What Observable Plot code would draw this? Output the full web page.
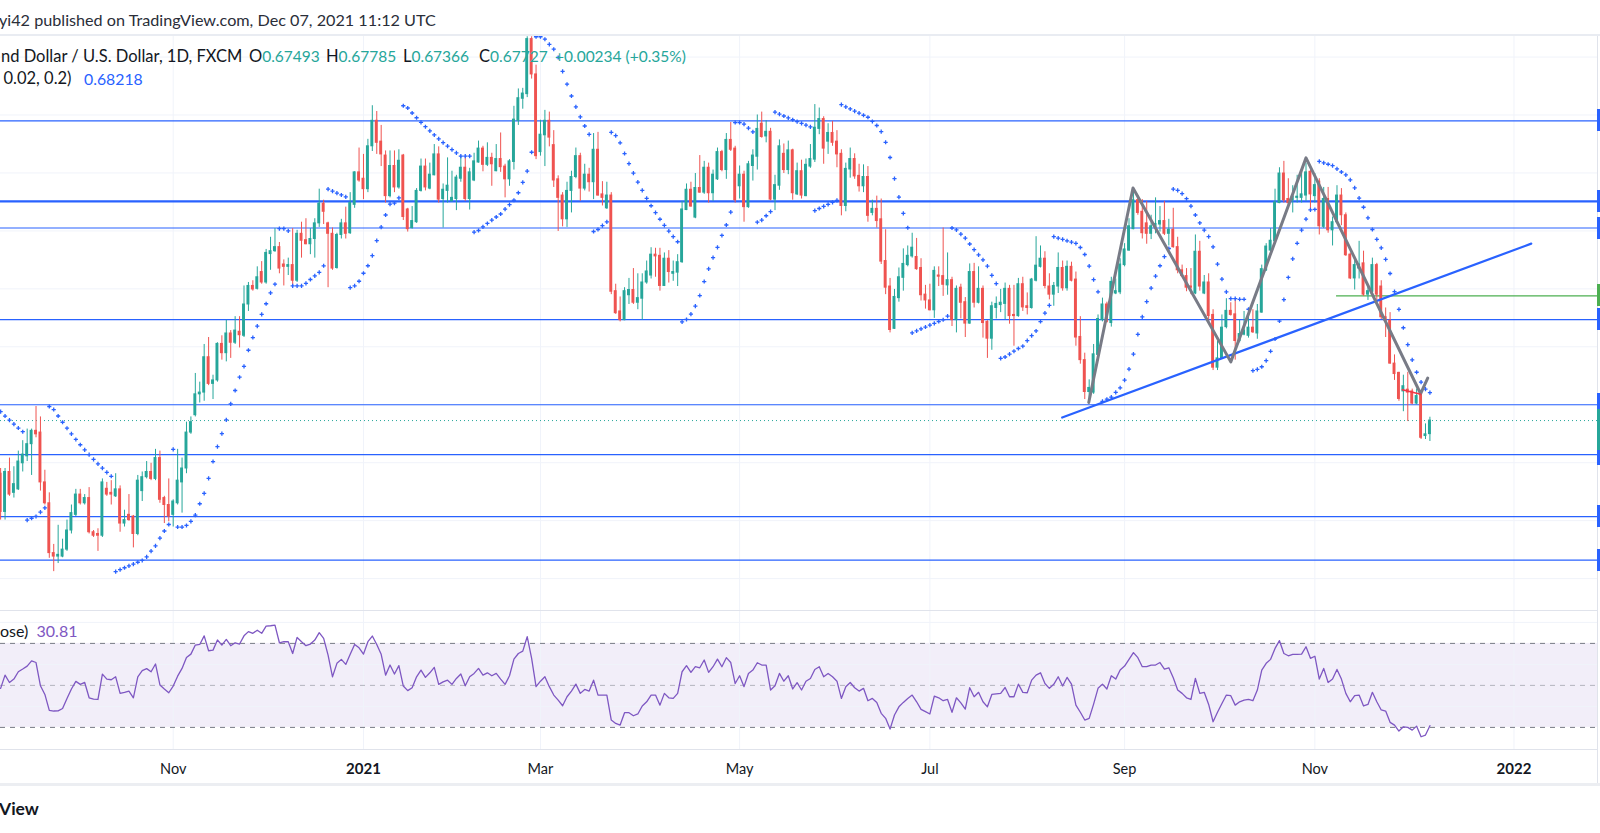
<!DOCTYPE html>
<html><head><meta charset="utf-8">
<script src="https://cdn.jsdelivr.net/npm/d3@7"></script>
<script src="https://cdn.jsdelivr.net/npm/@observablehq/plot@0.6"></script>
<style>
html,body{margin:0;padding:0;background:#fff;}
#root{position:relative;width:1600px;height:833px;overflow:hidden;background:#fff;font-family:Lato,"Noto Sans",sans-serif;color:#131722;}
.t{position:absolute;white-space:nowrap;line-height:1;}
.pane{position:absolute;left:0;}
.hl{position:absolute;left:0;width:1600px;}
</style></head><body><div id="root"></div>
<script>
// NZD/USD daily, FXCM — first bar 2020-09-08, last bar 2021-12-07 (one entry per trading day)
const open = [
.6681,.6615,.6684,.6648,.6654,.6699,.6711,.6732,.6755,.6752,
.6666,.6630,.6544,.6538,.6538,.6550,.6583,.6610,.6645,.6630,
.6639,.6580,.6577,.6574,.6655,.6648,.6642,.6654,.6595,.6610,
.6607,.6577,.6651,.6675,.6684,.6672,.6708,.6639,.6627,.6610,
.6630,.6666,.6690,.6752,.6782,.6818,.6821,.6882,.6836,.6842,
.6905,.6889,.6923,.6907,.6926,.6919,.6973,.7005,.7000,.7029,
.7011,.7060,.7065,.7072,.7042,.7038,.7041,.7014,.7095,.7084,
.7077,.7086,.7113,.7147,.7113,.7095,.7036,.7093,.7113,.7096,
.7145,.7201,.7190,.7172,.7246,.7290,.7254,.7230,.7160,.7212,
.7175,.7230,.7137,.7105,.7115,.7169,.7211,.7173,.7196,.7232,
.7155,.7169,.7151,.7155,.7190,.7209,.7155,.7187,.7218,.7242,
.7214,.7226,.7203,.7224,.7211,.7189,.7219,.7290,.7328,.7336,
.7431,.7370,.7236,.7265,.7290,.7248,.7189,.7161,.7120,.7169,
.7193,.7229,.7173,.7197,.7184,.7240,.7163,.7139,.7161,.6996,
.6961,.6946,.6989,.6998,.6976,.6983,.7011,.7023,.7059,.7057,
.7005,.7052,.7026,.7028,.7046,.7136,.7171,.7123,.7174,.7166,
.7209,.7165,.7189,.7236,.7205,.7257,.7242,.7177,.7197,.7141,
.7212,.7228,.7285,.7263,.7271,.7154,.7178,.7233,.7205,.7239,
.7163,.7203,.7160,.7211,.7223,.7276,.7293,.7254,.7269,.7254,
.7233,.7143,.7206,.7224,.7195,.7177,.7193,.7131,.7138,.7120,
.7048,.7004,.6931,.6984,.7019,.7041,.7056,.7055,.7036,.6990,
.6980,.6963,.7023,.7022,.7006,.7015,.6946,.7002,.6977,.6940,
.7029,.6976,.7000,.6943,.6914,.6967,.6972,.6974,.7000,.6955,
.6953,.7008,.6970,.6967,.7014,.7038,.7052,.7004,.6990,.7004,
.7036,.7001,.7038,.7016,.6917,.6877,.6822,.6821,.6886,.6946,
.6973,.6941,.6992,.6994,.7041,.7066,.7103,.7153,.7133,.7113,
.7095,.7106,.7111,.7117,.7095,.7102,.7072,.7032,.7022,.7004,
.6992,.7064,.6992,.7011,.6955,.6864,.6880,.6934,.6962,.6956,
.6910,.6921,.6919,.6933,.6923,.6959,.7032,.7066,.7082,.7148,
.7199,.7155,.7153,.7157,.7157,.7161,.7202,.7160,.7185,.7107,
.7155,.7101,.7115,.7161,.7127,.7059,.7018,.7035,.7044,.6990,
.6995,.7041,.7004,.6951,.6945,.6871,.6855,.6823,.6826,.6823,
.6802,.6818,.6746,.67493];
const high = [
.6690,.6690,.6708,.6693,.6720,.6738,.6758,.6758,.6797,.6779,
.6687,.6648,.6559,.6592,.6568,.6601,.6627,.6654,.6654,.6645,
.6657,.6583,.6586,.6672,.6666,.6669,.6681,.6660,.6618,.6645,
.6609,.6678,.6684,.6702,.6699,.6723,.6720,.6642,.6672,.6636,
.6723,.6708,.6770,.6779,.6854,.6839,.6904,.6916,.6851,.6907,
.6919,.6946,.6928,.6952,.6952,.7005,.7011,.7014,.7038,.7047,
.7068,.7089,.7104,.7080,.7050,.7053,.7104,.7101,.7115,.7121,
.7104,.7121,.7172,.7153,.7115,.7105,.7096,.7120,.7141,.7166,
.7202,.7243,.7232,.7258,.7316,.7306,.7282,.7238,.7238,.7238,
.7240,.7232,.7139,.7142,.7173,.7224,.7224,.7217,.7249,.7245,
.7181,.7226,.7203,.7196,.7229,.7226,.7208,.7234,.7255,.7246,
.7252,.7234,.7249,.7269,.7215,.7223,.7315,.7345,.7346,.7435,
.7435,.7386,.7291,.7308,.7305,.7273,.7195,.7166,.7184,.7203,
.7243,.7234,.7215,.7208,.7268,.7270,.7185,.7184,.7166,.7008,
.6986,.7002,.7018,.7035,.7026,.7026,.7048,.7071,.7070,.7070,
.7062,.7066,.7048,.7059,.7151,.7181,.7184,.7199,.7230,.7220,
.7217,.7205,.7243,.7239,.7268,.7287,.7246,.7212,.7203,.7220,
.7240,.7300,.7305,.7290,.7277,.7196,.7257,.7250,.7255,.7241,
.7217,.7222,.7224,.7249,.7318,.7312,.7297,.7285,.7289,.7273,
.7240,.7217,.7243,.7233,.7215,.7214,.7211,.7153,.7160,.7155,
.7102,.7018,.6999,.7036,.7069,.7074,.7096,.7087,.7052,.7006,
.7008,.7038,.7038,.7105,.7062,.7020,.7005,.7008,.6985,.7043,
.7044,.7038,.7005,.6945,.6977,.6986,.6999,.7010,.7006,.7006,
.7018,.7020,.6993,.7018,.7090,.7074,.7064,.7026,.7011,.7062,
.7048,.7048,.7046,.7029,.6952,.6889,.6843,.6904,.6955,.6984,
.6977,.7020,.7017,.7052,.7078,.7121,.7172,.7161,.7154,.7151,
.7127,.7157,.7142,.7151,.7120,.7139,.7089,.7041,.7035,.7035,
.7093,.7082,.7023,.7026,.6964,.6910,.6955,.6983,.6976,.6982,
.6946,.6961,.6952,.6964,.6973,.7041,.7078,.7104,.7172,.7209,
.7220,.7190,.7178,.7196,.7202,.7217,.7205,.7199,.7190,.7175,
.7175,.7124,.7178,.7173,.7131,.7062,.7050,.7082,.7065,.7006,
.7053,.7044,.7014,.6967,.6959,.6886,.6856,.6851,.6856,.6827,
.6827,.6821,.6767,.67785];
const low = [
.6601,.6601,.6642,.6639,.6652,.6684,.6702,.6678,.6743,.6651,
.6627,.6535,.6512,.6526,.6536,.6547,.6577,.6607,.6627,.6627,
.6577,.6571,.6547,.6571,.6642,.6627,.6640,.6580,.6589,.6599,
.6553,.6574,.6633,.6672,.6669,.6669,.6630,.6595,.6598,.6589,
.6627,.6613,.6681,.6749,.6779,.6803,.6806,.6833,.6809,.6839,
.6877,.6874,.6880,.6904,.6898,.6916,.6961,.6996,.6998,.7008,
.7008,.7032,.7063,.7026,.7005,.7023,.7005,.7011,.7053,.7076,
.7059,.7053,.7106,.7111,.7002,.7032,.7034,.7086,.7086,.7094,
.7139,.7184,.7154,.7166,.7237,.7232,.7211,.7148,.7157,.7166,
.7172,.7118,.7098,.7103,.7113,.7167,.7169,.7171,.7195,.7148,
.7105,.7148,.7150,.7135,.7184,.7151,.7136,.7185,.7217,.7202,
.7211,.7177,.7202,.7201,.7157,.7177,.7205,.7282,.7310,.7330,
.7362,.7223,.7229,.7211,.7245,.7175,.7099,.7107,.7106,.7131,
.7190,.7151,.7169,.7167,.7154,.7160,.7143,.7137,.6990,.6956,
.6943,.6945,.6973,.6973,.6964,.6946,.7008,.7017,.7020,.6996,
.7004,.7010,.7013,.7004,.7044,.7135,.7141,.7121,.7165,.7163,
.7148,.7151,.7187,.7202,.7189,.7237,.7148,.7155,.7115,.7139,
.7186,.7205,.7260,.7252,.7152,.7135,.7170,.7199,.7197,.7153,
.7161,.7155,.7159,.7208,.7218,.7266,.7215,.7232,.7246,.7209,
.7126,.7133,.7191,.7189,.7167,.7166,.7115,.7126,.7105,.7042,
.6990,.6924,.6930,.6977,.6996,.7038,.7053,.7032,.6979,.6965,
.6962,.6949,.7004,.6987,.6989,.6935,.6924,.6948,.6916,.6939,
.6967,.6974,.6915,.6880,.6894,.6948,.6959,.6947,.6939,.6901,
.6951,.6961,.6955,.6965,.7012,.7036,.7000,.6981,.6970,.6992,
.6996,.6996,.7012,.6901,.6870,.6809,.6806,.6818,.6883,.6943,
.6941,.6934,.6990,.6990,.7038,.7065,.7102,.7127,.7086,.7077,
.7085,.7095,.7098,.7092,.7074,.7070,.7026,.7020,.6995,.6990,
.6990,.6996,.6990,.6943,.6859,.6859,.6879,.6931,.6953,.6877,
.6907,.6919,.6915,.6923,.6913,.6958,.7030,.7062,.7080,.7147,
.7148,.7141,.7131,.7148,.7148,.7151,.7137,.7148,.7093,.7104,
.7096,.7074,.7112,.7109,.7056,.7016,.6998,.7017,.6987,.6980,
.6989,.6980,.6947,.6916,.6870,.6842,.6806,.6788,.6771,.6800,
.6800,.6740,.6740,.67366];
const close = [
.6615,.6684,.6645,.6663,.6702,.6714,.6732,.6755,.6749,.6666,
.6630,.6544,.6538,.6541,.6550,.6583,.6613,.6645,.6630,.6639,
.6580,.6574,.6574,.6666,.6645,.6645,.6654,.6595,.6601,.6601,
.6577,.6669,.6675,.6684,.6672,.6708,.6636,.6627,.6607,.6633,
.6669,.6690,.6752,.6770,.6818,.6821,.6882,.6836,.6842,.6905,
.6889,.6923,.6907,.6928,.6920,.6973,.7005,.6999,.7020,.7011,
.7062,.7065,.7072,.7035,.7038,.7041,.7014,.7095,.7083,.7077,
.7086,.7113,.7147,.7133,.7095,.7035,.7093,.7113,.7095,.7148,
.7201,.7187,.7172,.7246,.7290,.7252,.7232,.7160,.7212,.7175,
.7221,.7124,.7103,.7117,.7169,.7211,.7175,.7197,.7232,.7154,
.7171,.7178,.7157,.7192,.7209,.7155,.7201,.7220,.7242,.7214,
.7226,.7215,.7224,.7210,.7189,.7220,.7292,.7329,.7337,.7431,
.7370,.7229,.7266,.7290,.7261,.7187,.7157,.7120,.7169,.7193,
.7229,.7173,.7197,.7184,.7240,.7161,.7157,.7161,.6995,.6958,
.6946,.6996,.6998,.6976,.6984,.7011,.7030,.7059,.7056,.7005,
.7052,.7029,.7029,.7046,.7137,.7171,.7142,.7174,.7166,.7209,
.7165,.7197,.7236,.7205,.7257,.7240,.7153,.7197,.7141,.7215,
.7230,.7276,.7262,.7271,.7154,.7179,.7246,.7205,.7239,.7165,
.7203,.7161,.7214,.7224,.7278,.7293,.7242,.7269,.7252,.7232,
.7143,.7207,.7224,.7194,.7177,.7193,.7126,.7138,.7117,.7047,
.7002,.6929,.6986,.7020,.7043,.7057,.7071,.7034,.6989,.6980,
.6963,.7031,.7021,.7007,.7015,.6946,.7000,.6976,.6940,.7029,
.6976,.7000,.6941,.6914,.6970,.6974,.6976,.7000,.6953,.6953,
.7008,.6968,.6967,.7016,.7040,.7052,.7005,.6990,.7005,.7036,
.7001,.7038,.7014,.6916,.6877,.6822,.6829,.6887,.6948,.6973,
.6943,.7012,.6996,.7042,.7068,.7108,.7153,.7131,.7096,.7095,
.7108,.7112,.7117,.7095,.7102,.7072,.7032,.7022,.7002,.7002,
.7064,.7004,.7011,.6953,.6864,.6880,.6933,.6962,.6955,.6910,
.6922,.6928,.6933,.6925,.6961,.7034,.7073,.7083,.7149,.7199,
.7153,.7148,.7159,.7159,.7163,.7201,.7163,.7179,.7108,.7155,
.7101,.7115,.7161,.7127,.7058,.7018,.7041,.7042,.6990,.6996,
.7041,.6990,.6951,.6945,.6871,.6853,.6810,.6832,.6821,.6802,
.6815,.6743,.6749,.67727];
// RSI(14, close)
const rsi = [
48.6,54.9,51.4,53.0,56.5,57.8,59.2,61.7,60.9,49.8,
45.7,38.1,37.8,37.9,39.0,43.8,48.3,51.9,50.5,51.4,
44.1,43.5,43.3,55.4,53.0,52.7,54.1,46.2,46.7,47.3,
44.1,54.1,57.0,58.0,56.5,60.2,50.2,48.3,46.5,49.7,
54.4,58.1,63.3,64.9,69.2,69.5,73.6,66.5,66.8,71.6,
69.2,71.9,68.9,70.3,69.7,73.6,75.6,74.8,76.3,74.8,
78.25,78.4,78.7,70.3,70.8,70.8,65.2,72.85,70.8,68.9,
69.7,71.6,75.1,72.4,64.4,54.1,60.5,62.4,60.0,64.8,
69.5,67.9,64.9,70.8,73.5,69.5,64.8,54.9,59.7,55.4,
59.4,49.7,47.5,48.9,54.1,57.3,53.8,56.0,58.6,50.5,
51.7,52.5,50.5,53.3,55.4,49.8,54.1,55.7,58.1,54.9,
56.0,54.6,55.7,53.0,50.5,54.6,62.5,65.2,66.3,73.2,
62.9,49.4,52.0,54.1,49.4,45.4,43.0,40.3,44.6,47.3,
50.6,46.2,48.1,47.3,52.5,45.4,45.4,45.4,33.5,31.9,
31.1,37.0,37.0,35.55,36.4,40.2,42.2,45.4,45.4,40.6,
46.2,44.1,43.8,46.2,56.5,59.4,56.2,58.9,58.4,62.1,
56.2,58.9,62.5,58.9,63.2,60.9,50.9,54.6,49.4,55.7,
57.3,60.8,59.7,59.7,47.8,49.8,55.7,52.0,54.6,48.3,
51.3,47.8,52.0,53.3,57.6,58.9,54.1,55.7,54.1,52.0,
43.8,49.4,51.4,48.9,47.3,48.6,42.7,43.8,41.9,36.7,
34.3,29.2,35.9,39.8,41.9,43.8,45.4,42.2,38.6,37.5,
36.4,44.9,44.1,42.7,43.3,37.2,44.1,41.7,38.7,48.9,
44.6,46.7,42.2,39.8,45.7,46.0,46.2,49.0,44.6,44.6,
50.6,46.7,46.5,52.5,54.9,56.0,50.9,48.6,50.5,54.1,
49.7,53.8,50.6,40.6,37.2,33.5,34.3,41.1,48.6,50.6,
48.3,54.6,53.0,57.3,59.2,62.4,65.6,63.2,58.9,58.9,
59.7,59.7,60.9,57.8,58.4,53.6,47.8,46.2,44.1,43.3,
53.3,46.2,46.7,40.95,32.7,37.2,41.4,45.4,45.1,40.6,
42.2,43.0,43.3,42.7,47.8,57.3,60.5,62.4,67.6,71.3,
65.2,64.1,64.8,64.8,64.9,68.4,62.9,63.9,53.0,58.1,
51.4,53.0,57.6,53.0,46.2,42.2,45.1,45.4,40.2,40.95,
46.7,42.2,38.3,37.8,32.4,31.1,28.25,30.3,30.0,28.7,
30.6,25.55,26.35,30.81];

// time axis: bar index of first bar of each labelled month
const tickBars = [39, 82, 122, 167, 210, 254, 297, 342];
const tickLabels = ["Nov", "2021", "Mar", "May", "Jul", "Sep", "Nov", "2022"];

// drawn horizontal levels (price)
const levels = [0.7290, 0.7105, 0.6947, 0.6800, 0.6714, 0.6607, 0.6532];
const thickLevel = 0.7151;
const greenLevel = 0.6988, greenStartBar = 301.9;
// rising trend line and zigzag drawing (bar, price)
const trendBars = [239.9, 345.9], trendPrices = [0.6778, 0.7078];
const zigBars = [245.9, 255.9, 278.0, 295.0, 320.9, 322.5];
const zigPrices = [0.6804, 0.7174, 0.6874, 0.7226, 0.6819, 0.6846];
const redBars = [316.8, 320.9], redPrices = [0.6826, 0.6818];

// Parabolic SAR (0.02, 0.02, 0.2), state at first bar
const sarInit = {up: false, value: 0.6788, ep: 0.6601, af: 0.04};
const sarStep = 0.02, sarMax = 0.2;

const G = "#26a69a", R = "#ef5350", BLUE = "#2962ff", PURPLE = "#7e57c2", GRID = "#f0f3fa";

function parabolicSar(h, l) {
  const n = h.length, out = new Array(n);
  let up = sarInit.up, s = sarInit.value, ep = sarInit.ep, af = sarInit.af;
  out[0] = s;
  for (let i = 1; i < n; i++) {
    s = s + af * (ep - s);
    if (up) {
      s = Math.min(s, l[i - 1], i > 1 ? l[i - 2] : l[i - 1]);
      if (l[i] < s) { up = false; s = ep; ep = l[i]; af = sarStep; }
      else if (h[i] > ep) { ep = h[i]; af = Math.min(af + sarStep, sarMax); }
    } else {
      s = Math.max(s, h[i - 1], i > 1 ? h[i - 2] : h[i - 1]);
      if (h[i] > s) { up = true; s = ep; ep = h[i]; af = sarStep; }
      else if (l[i] < ep) { ep = l[i]; af = Math.min(af + sarStep, sarMax); }
    }
    out[i] = s;
  }
  return out;
}

const n = close.length;
const bars = d3.range(n).map(i => ({i, o: open[i], h: high[i], l: low[i], c: close[i], up: close[i] >= open[i]}));
const upBars = bars.filter(d => d.up), dnBars = bars.filter(d => !d.up);
const sarVals = parabolicSar(high, low);
const sarData = sarVals.map((v, i) => ({i, v}));
const rsiData = rsi.map((v, i) => ({i, v}));
const ticks = tickBars.map((b, k) => ({i: b, label: tickLabels[k], year: /^\d{4}$/.test(tickLabels[k])}));
const priceGrid = d3.range(65, 75).map(v => v / 100);
const xDomain = [-0.028, 361.55];
const xEndBar = 360.87;
const halfBody = 0.33;

const root = document.getElementById("root");

const main = Plot.plot({
  width: 1600, height: 574, margin: 0,
  style: {background: "transparent", fontFamily: "Lato, sans-serif"},
  x: {domain: xDomain, axis: null},
  y: {domain: [0.644496, 0.743546], axis: null},
  marks: [
    Plot.ruleY(priceGrid, {stroke: GRID, strokeWidth: 1}),
    Plot.ruleX(tickBars, {stroke: GRID, strokeWidth: 1}),
    Plot.ruleY(levels, {stroke: BLUE, strokeWidth: 1.2}),
    Plot.ruleY([thickLevel], {stroke: BLUE, strokeWidth: 2.4}),
    Plot.ruleY([{y: greenLevel, a: greenStartBar, b: xEndBar}], {y: "y", x1: "a", x2: "b", stroke: "#4caf50", strokeWidth: 1.2}),
    Plot.ruleY([close[n - 1]], {stroke: G, strokeWidth: 1, strokeDasharray: "1,3"}),
    Plot.ruleX(upBars, {x: "i", y1: "l", y2: "h", stroke: G, strokeWidth: 1}),
    Plot.ruleX(dnBars, {x: "i", y1: "l", y2: "h", stroke: R, strokeWidth: 1}),
    Plot.rect(upBars, {x1: d => d.i - halfBody, x2: d => d.i + halfBody, y1: "o", y2: "c", fill: G, insetTop: -0.5, insetBottom: -0.5}),
    Plot.rect(dnBars, {x1: d => d.i - halfBody, x2: d => d.i + halfBody, y1: "o", y2: "c", fill: R, insetTop: -0.5, insetBottom: -0.5}),
    Plot.dot(sarData, {x: "i", y: "v", symbol: "plus", r: 1.45, stroke: BLUE, strokeWidth: 1.3, fill: "none"}),
    Plot.line(trendBars.map((b, k) => ({b, p: trendPrices[k]})), {x: "b", y: "p", stroke: BLUE, strokeWidth: 2.2}),
    Plot.line(zigBars.map((b, k) => ({b, p: zigPrices[k]})), {x: "b", y: "p", stroke: "#787b86", strokeWidth: 3, strokeLinejoin: "round", strokeLinecap: "round"}),
    Plot.line(redBars.map((b, k) => ({b, p: redPrices[k]})), {x: "b", y: "p", stroke: "#f23645", strokeWidth: 1.6})
  ]
});
const mainWrap = document.createElement("div");
mainWrap.className = "pane"; mainWrap.style.top = "36px";
mainWrap.appendChild(main); root.appendChild(mainWrap);

const lower = Plot.plot({
  width: 1600, height: 175, marginTop: 0, marginBottom: 35, marginLeft: 0, marginRight: 0,
  style: {background: "transparent", fontFamily: "Lato, sans-serif"},
  x: {domain: xDomain, axis: null},
  y: {domain: [19.0, 85.67], axis: null},
  marks: [
    Plot.rect([{a: xDomain[0], b: xEndBar, lo: 30, hi: 70}], {x1: "a", x2: "b", y1: "lo", y2: "hi", fill: PURPLE, fillOpacity: 0.1}),
    Plot.ruleY([40, 60, 80], {stroke: GRID, strokeWidth: 1}),
    Plot.ruleX(tickBars, {stroke: GRID, strokeWidth: 1}),
    Plot.ruleY([70, 30], {stroke: "#787b86", strokeWidth: 1, strokeDasharray: "5,5"}),
    Plot.ruleY([50], {stroke: "#787b86", strokeOpacity: 0.5, strokeWidth: 1, strokeDasharray: "5,5"}),
    Plot.line(rsiData, {x: "i", y: "v", stroke: PURPLE, strokeWidth: 1.3}),
    Plot.text(ticks.filter(d => !d.year), {x: "i", text: "label", frameAnchor: "bottom", dy: 23, fontSize: 14.5, fill: "#131722"}),
    Plot.text(ticks.filter(d => d.year), {x: "i", text: "label", frameAnchor: "bottom", dy: 23, fontSize: 15, fontWeight: "bold", fill: "#131722"})
  ]
});
const lowWrap = document.createElement("div");
lowWrap.className = "pane"; lowWrap.style.top = "610px";
lowWrap.appendChild(lower); root.appendChild(lowWrap);

function hline(top, h, color) {
  const d = document.createElement("div");
  d.className = "hl"; d.style.top = top + "px"; d.style.height = h + "px"; d.style.background = color;
  root.appendChild(d);
}
hline(34, 2, "#e9ecf2");
hline(610, 1, "#e0e3eb");
hline(749, 1, "#e0e3eb");
hline(783, 3, "#eceef2");

// right price-scale edge
const edge = document.createElement("div");
edge.style.cssText = "position:absolute;left:1597px;top:36px;width:3px;height:747px;background:#fff;border-left:1.5px solid #e0e3eb;box-sizing:border-box;";
root.appendChild(edge);
const ys = main.scale("y");
function stub(price, color, up, down) {
  const y = 36 + ys.apply(price);
  const d = document.createElement("div");
  d.style.cssText = `position:absolute;left:1597px;width:3px;top:${y - up}px;height:${up + down}px;background:${color};`;
  root.appendChild(d);
}
levels.concat([thickLevel]).forEach(v => stub(v, BLUE, 11, 11));
stub(greenLevel, "#4caf50", 11, 11);
stub(close[n - 1], G, 11, 30);

function label(html, x, yc, size, color, weight) {
  const d = document.createElement("div");
  d.className = "t"; d.innerHTML = html;
  d.style.left = x + "px"; d.style.top = (yc - size * 0.56) + "px";
  d.style.fontSize = size + "px"; d.style.color = color;
  if (weight) d.style.fontWeight = weight;
  root.appendChild(d); return d;
}
const V = (s) => `<span style="color:${G};font-size:15.5px">${s}</span>`;
label("yi42 published on TradingView.com, Dec 07, 2021 11:12 UTC", -1, 21.5, 16.2, "#2a2e39");
label("nd Dollar / U.S. Dollar, 1D, FXCM", 1, 57.5, 16.5, "#131722");
label("O" + V("0.67493"), 249, 57.5, 16.5, "#131722");
label("H" + V("0.67785"), 326, 57.5, 16.5, "#131722");
label("L" + V("0.67366"), 403, 57.5, 16.5, "#131722");
label("C" + V("0.67727"), 479, 57.5, 16.5, "#131722");
label(V("+0.00234 (+0.35%)"), 555, 57.5, 16.5, "#131722");
label("0.02, 0.2)", 3.5, 79.5, 16.5, "#131722");
label(`<span style="color:${BLUE}">0.68218</span>`, 84, 79.5, 15.8, "#131722");
label(`ose)&nbsp; <span style="color:${PURPLE}">30.81</span>`, 0, 631.5, 16, "#131722");
label("View", -1, 810, 17.5, "#131722", "700");
</script></body></html>
